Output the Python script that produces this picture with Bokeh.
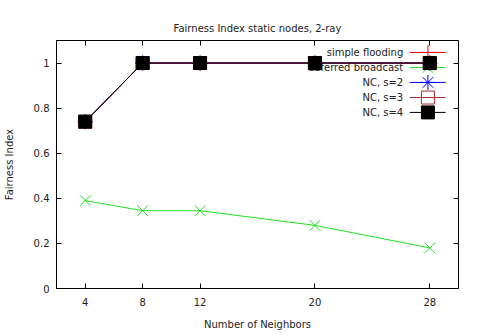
from bokeh.plotting import figure
from bokeh.models import Range1d, FixedTicker, LinearAxis
from bokeh.core.properties import value
from bokeh.embed import file_html
from bokeh.resources import INLINE

# Data
neighbors = [4, 8, 12, 20, 28]
simple_flooding = [0.74, 1.0, 1.0, 1.0, 1.0]
deferred_broadcast = [0.39, 0.345, 0.345, 0.28, 0.18]
nc_s2 = [0.74, 1.0, 1.0, 1.0, 1.0]
nc_s3 = [0.74, 1.0, 1.0, 1.0, 1.0]
nc_s4 = [0.74, 1.0, 1.0, 1.0, 1.0]
series_names = ["simple flooding", "deferred broadcast", "NC, s=2", "NC, s=3", "NC, s=4"]
y_ticks = [0, 0.2, 0.4, 0.6, 0.8, 1.0]
y_tick_labels = ["0", "0.2", "0.4", "0.6", "0.8", "1"]

FONT = "DejaVu Sans"
TXT = "#222222"

p = figure(width=477, height=336, output_backend="svg", toolbar_location=None,
           x_range=Range1d(2, 30), y_range=Range1d(0, 1.1),
           min_border_left=54, min_border_right=19, min_border_top=40, min_border_bottom=48)
p.title.text = "Fairness Index static nodes, 2-ray"
p.title.align = "center"
p.title.vertical_align = "top"
p.title.text_font = FONT
p.title.text_font_size = "10px"
p.title.text_font_style = "normal"
p.title.text_color = TXT
p.title.standoff = 10

p.xgrid.visible = False
p.ygrid.visible = False
p.outline_line_color = "black"
p.outline_line_width = 1
p.background_fill_color = "white"
p.border_fill_color = "white"

xa = p.xaxis[0]
ya = p.yaxis[0]
xa.ticker = FixedTicker(ticks=neighbors)
ya.ticker = FixedTicker(ticks=y_ticks)
ya.major_label_overrides = {t: s for t, s in zip(y_ticks, y_tick_labels)}
xa.axis_label = "Number of Neighbors"
ya.axis_label = "Fairness Index"
for ax in (xa, ya):
    ax.major_tick_in = 5
    ax.major_tick_out = 0
    ax.minor_tick_line_color = None
    ax.axis_line_color = "black"
    ax.major_tick_line_color = "black"
    ax.major_label_text_font = FONT
    ax.major_label_text_font_size = "10px"
    ax.major_label_text_color = TXT
    ax.axis_label_text_font = FONT
    ax.axis_label_text_font_size = "10px"
    ax.axis_label_text_font_style = "normal"
    ax.axis_label_text_color = TXT
xa.major_label_standoff = 9
xa.axis_label_standoff = 10
ya.major_label_standoff = 7
ya.axis_label_standoff = 16

# mirrored ticks on the top and right edges (no labels)
for side, ticks in (("above", neighbors), ("right", y_ticks)):
    ax = LinearAxis(ticker=FixedTicker(ticks=ticks))
    ax.major_tick_in = 5
    ax.major_tick_out = 0
    ax.minor_tick_line_color = None
    ax.axis_line_color = None
    ax.major_tick_line_color = "black"
    ax.major_label_text_color = None
    ax.major_label_text_alpha = 0
    ax.major_label_text_font_size = "1px"
    ax.major_label_standoff = 0
    p.add_layout(ax, side)

# key (text on the left, sample on the right)
key_y = [1.047, 0.980, 0.914, 0.847, 0.781]
p.text(x=[26.15] * 5, y=key_y, text=series_names, text_align="right",
       text_baseline="middle", text_font=value(FONT), text_font_size="10px",
       text_color=TXT)

colors = ["#ff0000", "#22e022", "#0000ff", "#a52a2a", "#000000"]
markers = ["cross", "x", "asterisk", "square", "square"]
fills = [None, None, None, None, "#000000"]
sizes = [15, 15, 15, 13, 13]
series = [simple_flooding, deferred_broadcast, nc_s2, nc_s3, nc_s4]

for i, (vals, c, m, f, s) in enumerate(zip(series, colors, markers, fills, sizes)):
    p.line(neighbors, vals, line_color=c, line_width=1)
    p.scatter(neighbors, vals, marker=m, size=s, line_color=c, line_width=1,
              fill_color=f)
    p.segment(x0=[26.6], y0=[key_y[i]], x1=[29.1], y1=[key_y[i]], line_color=c, line_width=1)
    p.scatter([27.87], [key_y[i]], marker=m, size=s, line_color=c, line_width=1, fill_color=f)

open("out.html", "w").write(file_html(p, INLINE))
